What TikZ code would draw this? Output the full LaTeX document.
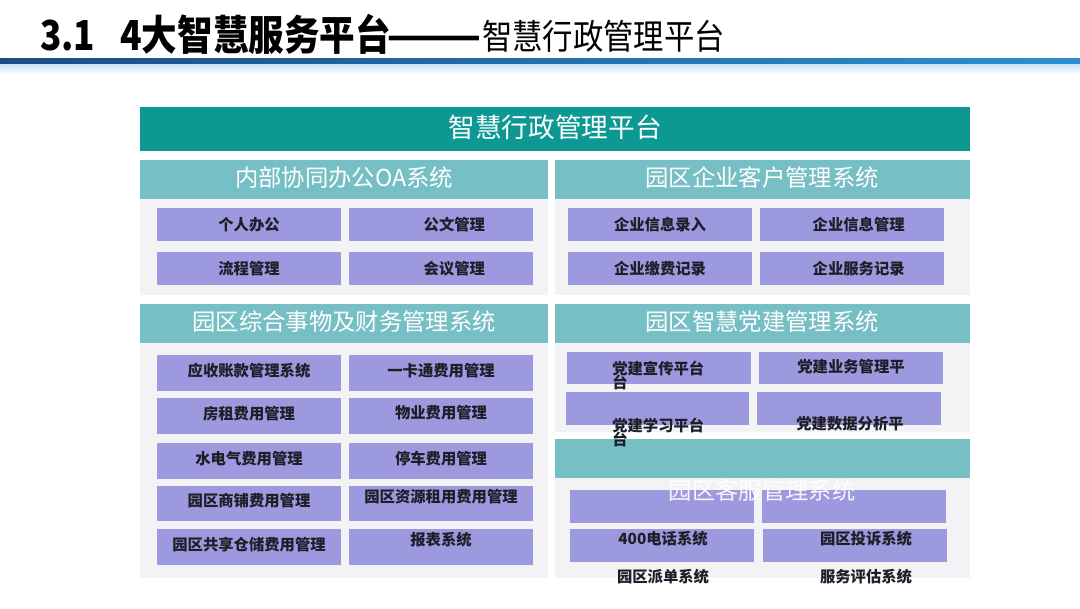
\documentclass[tikz,border=0pt]{standalone}
\usepackage{fontspec}
\setmainfont{Noto Sans CJK SC}
\definecolor{teal1}{RGB}{14,152,148}
\definecolor{teal2}{RGB}{118,191,196}
\definecolor{panelbg}{RGB}{243,243,246}
\definecolor{boxc}{RGB}{157,153,222}
\definecolor{bar1}{RGB}{28,76,132}
\definecolor{bar2}{RGB}{42,144,210}
\definecolor{txt}{RGB}{30,30,40}
\tikzset{
  panel/.style={fill=panelbg, draw=none},
  mainhead/.style={fill=teal1, draw=none},
  subhead/.style={fill=teal2, draw=none},
  headtxt/.style={text=white, font=\fontsize{17.5pt}{20pt}\selectfont, inner sep=0pt},
  itembox/.style={fill=boxc, draw=none, rectangle, inner sep=0pt, text=txt, font=\bfseries\fontsize{11.5pt}{13pt}\selectfont},
  itemtxt/.style={text=txt, font=\bfseries\fontsize{11.5pt}{13pt}\selectfont, inner sep=0pt, align=left},
  titletxt/.style={anchor=base west, inner sep=0pt, text=black},
}
\begin{document}
\begin{tikzpicture}[x=0.75pt,y=-0.75pt]
\useasboundingbox (0,0) rectangle (1080,608);
\fill[white] (0,0) rectangle (1080,608);
% title
\node[titletxt, font=\bfseries\fontsize{31pt}{33pt}\selectfont] (t0) at (40,50) {\scalebox{0.85}[1]{3.1}};
\node[titletxt, font=\bfseries\fontsize{31pt}{33pt}\selectfont] (t1) at (120,50) {\scalebox{0.86}[1]{4大智慧服务平台}};
\node[titletxt, font=\bfseries\fontsize{31pt}{33pt}\selectfont] (t1d) at (386,50) {\scalebox{1.35}[1]{——}};
\node[titletxt, font=\fontsize{26pt}{28pt}\selectfont] (t2) at (482,49) {\scalebox{0.875}[1]{智慧行政管理平台}};
% bar
\shade[left color=bar1, right color=bar2] (0,58) rectangle (1080,64);
\shade[top color=bar2!25, bottom color=white] (0,64) rectangle (1080,74);
% main header
\node[mainhead, minimum width=830*0.75pt, minimum height=44*0.75pt, inner sep=0pt] (mh) at (555,129) {};
\node[text=white, font=\fontsize{20pt}{22pt}\selectfont, inner sep=0pt] (mht) at (555,127) {智慧行政管理平台};
% panel 1
\fill[panel] (140,199) rectangle (548,295);
\node[subhead, minimum width=408*0.75pt, minimum height=39*0.75pt, inner sep=0pt] (h1) at (344,179.5) {};
\node[headtxt] (h1t) at (344,178) {内部协同办公OA系统};
\node[itembox, minimum width=184*0.75pt, minimum height=33*0.75pt] (b11) at (249,224.5) {个人办公};
\node[itembox, minimum width=184*0.75pt, minimum height=33*0.75pt] (b12) at (441,224.5) {\hspace{20pt}公文管理};
\node[itembox, minimum width=184*0.75pt, minimum height=33*0.75pt] (b13) at (249,268.5) {流程管理};
\node[itembox, minimum width=184*0.75pt, minimum height=33*0.75pt] (b14) at (441,268.5) {\hspace{20pt}会议管理};
% panel 2
\fill[panel] (555,199) rectangle (970,295);
\node[subhead, minimum width=415*0.75pt, minimum height=39*0.75pt, inner sep=0pt] (h2) at (762.5,179.5) {};
\node[headtxt] (h2t) at (762,178) {园区企业客户管理系统};
\node[itembox, minimum width=184*0.75pt, minimum height=33*0.75pt] (b21) at (660,224.5) {企业信息录入};
\node[itembox, minimum width=184*0.75pt, minimum height=33*0.75pt] (b22) at (852,224.5) {\hspace{10pt}企业信息管理};
\node[itembox, minimum width=184*0.75pt, minimum height=33*0.75pt] (b23) at (660,268.5) {企业缴费记录};
\node[itembox, minimum width=184*0.75pt, minimum height=33*0.75pt] (b24) at (852,268.5) {\hspace{10pt}企业服务记录};
% panel 3
\fill[panel] (140,343) rectangle (548,578);
\node[subhead, minimum width=408*0.75pt, minimum height=39*0.75pt, inner sep=0pt] (h3) at (344,323.5) {};
\node[headtxt] (h3t) at (344,322) {园区综合事物及财务管理系统};
\node[itembox, minimum width=184*0.75pt, minimum height=36*0.75pt] (b31) at (249,373) {};
\node[itemtxt] (b31t) at (249,371) {应收账款管理系统};
\node[itembox, minimum width=184*0.75pt, minimum height=36*0.75pt] (b32) at (441,373) {};
\node[itemtxt] (b32t) at (441,371) {一卡通费用管理};
\node[itembox, minimum width=184*0.75pt, minimum height=36*0.75pt] (b33) at (249,416) {};
\node[itemtxt] (b33t) at (249,414) {房租费用管理};
\node[itembox, minimum width=184*0.75pt, minimum height=36*0.75pt] (b34) at (441,416) {};
\node[itemtxt] (b34t) at (441,413) {物业费用管理};
\node[itembox, minimum width=184*0.75pt, minimum height=36*0.75pt] (b35) at (249,461) {};
\node[itemtxt] (b35t) at (249,459) {水电气费用管理};
\node[itembox, minimum width=184*0.75pt, minimum height=36*0.75pt] (b36) at (441,461) {};
\node[itemtxt] (b36t) at (441,459) {停车费用管理};
\node[itembox, minimum width=184*0.75pt, minimum height=35*0.75pt] (b37) at (249,503.5) {};
\node[itemtxt] (b37t) at (249,501) {园区商铺费用管理};
\node[itembox, minimum width=184*0.75pt, minimum height=35*0.75pt] (b38) at (441,503.5) {};
\node[itemtxt] (b38t) at (441,497) {园区资源租用费用管理};
\node[itembox, minimum width=184*0.75pt, minimum height=36*0.75pt] (b39) at (249,547) {};
\node[itemtxt] (b39t) at (249,545) {园区共享仓储费用管理};
\node[itembox, minimum width=184*0.75pt, minimum height=36*0.75pt] (b310) at (441,547) {};
\node[itemtxt] (b310t) at (441,540) {报表系统};
% panel 4
\fill[panel] (555,343) rectangle (970,432);
\node[subhead, minimum width=415*0.75pt, minimum height=39*0.75pt, inner sep=0pt] (h4) at (762.5,323.5) {};
\node[headtxt] (h4t) at (762,322) {园区智慧党建管理系统};
\node[itembox, minimum width=184*0.75pt, minimum height=32*0.75pt] (b41) at (659,368) {};
\node[itembox, minimum width=184*0.75pt, minimum height=32*0.75pt] (b42) at (851,368) {};
\node[itembox, minimum width=183*0.75pt, minimum height=33*0.75pt] (b43) at (657.5,408.5) {};
\node[itembox, minimum width=184*0.75pt, minimum height=33*0.75pt] (b44) at (849,408.5) {};
% panel 5
\fill[panel] (555,478) rectangle (970,578);
\node[itembox, minimum width=184*0.75pt, minimum height=33*0.75pt] (b51) at (662,506.5) {};
\node[itembox, minimum width=184*0.75pt, minimum height=33*0.75pt] (b52) at (854,506.5) {};
\node[itembox, minimum width=184*0.75pt, minimum height=33*0.75pt] (b53) at (662,545.5) {};
\node[itembox, minimum width=184*0.75pt, minimum height=33*0.75pt] (b54) at (855,545.5) {};
\node[headtxt, text opacity=0.9] (h5t) at (762,491) {园区客服管理系统};
\node[subhead, minimum width=415*0.75pt, minimum height=39*0.75pt, inner sep=0pt] (h5) at (762.5,458.5) {};
% panel 4 texts (drawn on top)
\node[itemtxt, anchor=west] (b41t) at (612,375.5) {党建宣传平台\\[-3pt]台};
\node[itemtxt] (b42t) at (851,367) {党建业务管理平};
\node[itemtxt, anchor=west] (b43t) at (612,432.5) {党建学习平台\\[-3pt]台};
\node[itemtxt] (b44t) at (850,424) {党建数据分析平};
% panel 5 texts
\node[itemtxt] (b53t) at (663,539) {400电话系统};
\node[itemtxt] (b54t) at (866,539) {园区投诉系统};
\node[itemtxt] (b55t) at (663,577) {园区派单系统};
\node[itemtxt] (b56t) at (866,577) {服务评估系统};
\end{tikzpicture}
\end{document}
